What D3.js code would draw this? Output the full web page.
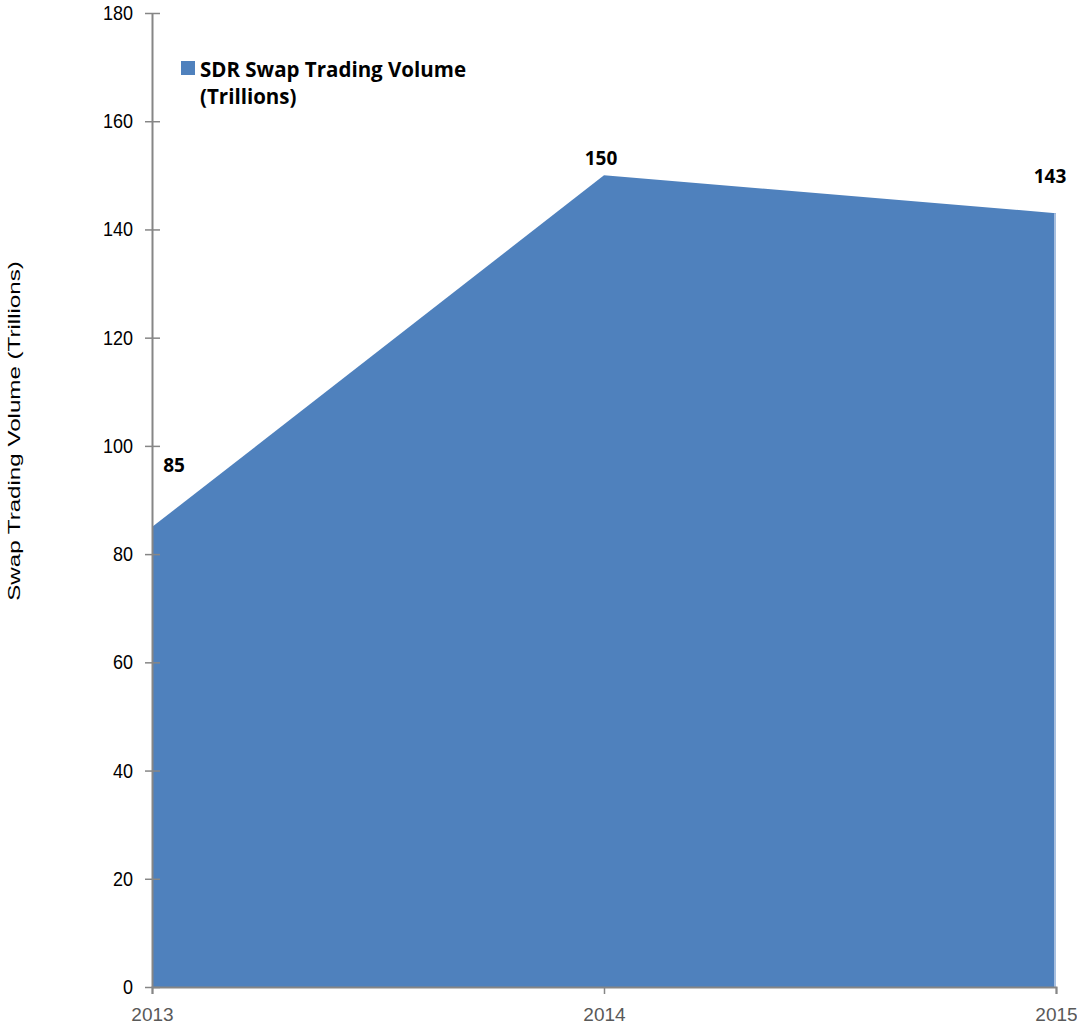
<!DOCTYPE html>
<html>
<head>
<meta charset="utf-8">
<script src="https://cdn.jsdelivr.net/npm/d3@7"></script>
<style>
  html, body { margin: 0; padding: 0; background: #fff; }
  svg { display: block; }
</style>
</head>
<body>
<svg id="chart" width="1077" height="1027"></svg>
<script>
// Annual SDR swap trading volume, trillions
const years = ["2013", "2014", "2015"];
const volumes = [85, 150, 143];
const yTicks = [0, 20, 40, 60, 80, 100, 120, 140, 160, 180];
const seriesName = ["SDR Swap Trading Volume", "(Trillions)"];
const axisTitle = "Swap Trading Volume (Trillions)";

const svg = d3.select("#chart");
const margin = { left: 152, right: 1056, top: 13, bottom: 987 };

const x = d3.scalePoint().domain(years).range([margin.left, margin.right]);
const y = d3.scaleLinear().domain([0, 180]).range([margin.bottom, margin.top]);

const data = years.map((yr, i) => ({ year: yr, value: volumes[i] }));

// filled area
const area = d3.area()
  .x(d => x(d.year))
  .y0(y(0))
  .y1(d => y(d.value));

svg.append("path")
  .datum(data)
  .attr("d", area)
  .attr("fill", "#4F81BD");

// light edge on the right side of the fill
const lastYear = years[years.length - 1];
svg.append("line")
  .attr("x1", x(lastYear) - 1).attr("x2", x(lastYear) - 1)
  .attr("y1", y(volumes[volumes.length - 1])).attr("y2", y(0))
  .attr("stroke", "#A7BFDF").attr("stroke-width", 2);

const axisColor = "#868686";
const sansFont = "Liberation Sans, Arial, sans-serif";
const boldFont = "Open Sans, Liberation Sans, Arial, sans-serif";

// y axis
const yAxis = svg.append("g")
  .attr("transform", `translate(${margin.left},0)`)
  .call(d3.axisLeft(y).tickValues(yTicks).tickSize(0).tickPadding(19));
yAxis.select(".domain").attr("stroke", axisColor).attr("stroke-width", 2);
yAxis.selectAll(".tick text")
  .attr("font-family", sansFont)
  .attr("font-size", 18)
  .attr("transform", "scale(1,1.12)")
  .attr("fill", "#000");
yAxis.selectAll(".tick").append("line")
  .attr("x1", -7).attr("x2", 8)
  .attr("stroke", axisColor).attr("stroke-width", 1.5);

// x axis
const xAxis = svg.append("g")
  .attr("transform", `translate(0,${y(0)})`)
  .call(d3.axisBottom(x).tickSize(7).tickPadding(14));
xAxis.select(".domain").attr("stroke", axisColor).attr("stroke-width", 2);
xAxis.selectAll(".tick line").attr("stroke", axisColor).attr("stroke-width", 1.5);
xAxis.selectAll(".tick text")
  .attr("font-family", sansFont)
  .attr("font-size", 19)
  .attr("fill", "#595959");

// axis title
svg.append("text")
  .attr("transform", "translate(20,431) scale(1,1.42) rotate(-90)")
  .attr("text-anchor", "middle")
  .attr("font-family", sansFont)
  .attr("font-size", 17)
  .attr("fill", "#000")
  .text(axisTitle);

// value labels (nudged to clear the fill edge)
const labelNudge = [{ dx: 22, dy: -55 }, { dx: -3, dy: -10 }, { dx: -6, dy: -30 }];
svg.append("g").selectAll("text")
  .data(data)
  .join("text")
  .attr("x", (d, i) => x(d.year) + labelNudge[i].dx)
  .attr("y", (d, i) => y(d.value) + labelNudge[i].dy)
  .attr("text-anchor", "middle")
  .attr("font-family", boldFont)
  .attr("font-weight", "bold")
  .attr("font-size", 19)
  .attr("fill", "#000")
  .text(d => d.value);

// legend
const legend = svg.append("g").attr("transform", "translate(181,61)");
legend.append("rect")
  .attr("width", 14).attr("height", 14)
  .attr("fill", "#4F81BD");
legend.append("text")
  .attr("y", 16)
  .attr("font-family", boldFont)
  .attr("font-weight", "bold")
  .attr("font-size", 20.5)
  .attr("fill", "#000")
  .selectAll("tspan")
  .data(seriesName)
  .join("tspan")
  .attr("x", 19)
  .attr("dy", (d, i) => i === 0 ? 0 : 27)
  .text(d => d);
</script>
</body>
</html>
